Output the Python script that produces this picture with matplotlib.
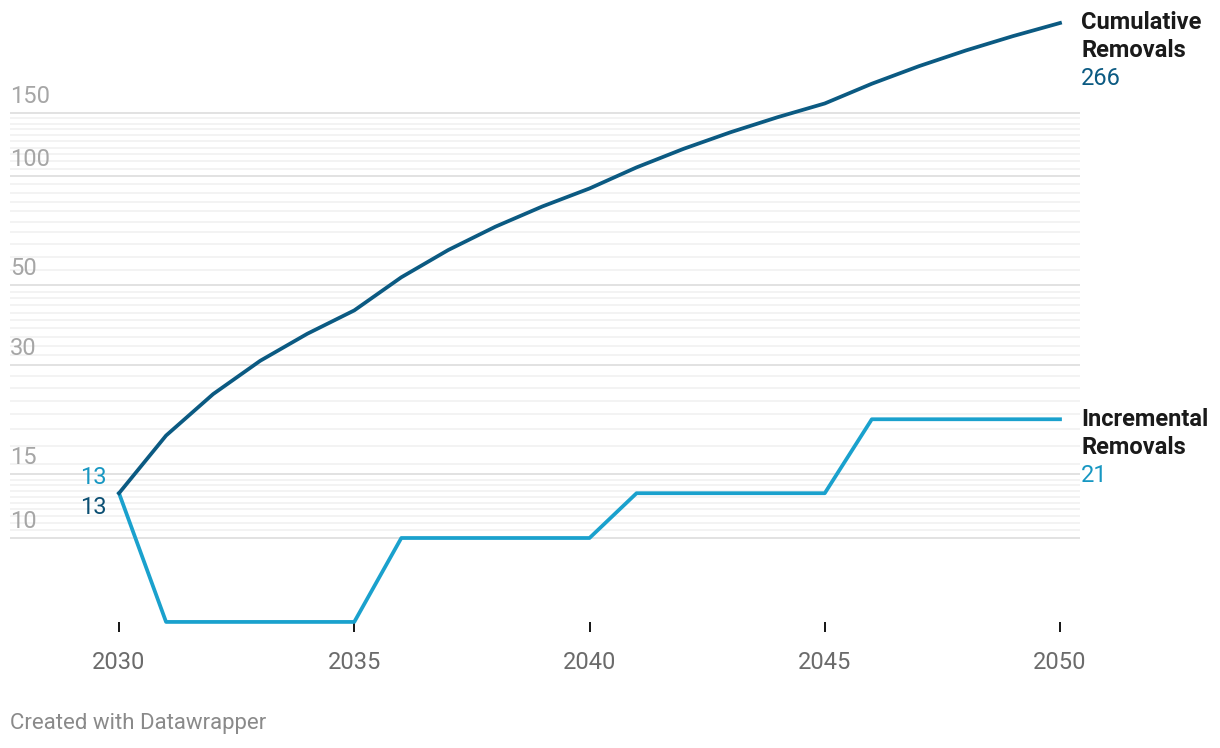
import numpy as np
import matplotlib
matplotlib.use("Agg")
import matplotlib.pyplot as plt

plt.rcParams['font.family'] = ['Roboto', 'DejaVu Sans']

years = list(range(2030, 2051))
incremental = [13.3, 5.86, 5.86, 5.86, 5.86, 5.86, 10.0, 10.0, 10.0, 10.0, 10.0,
               13.3, 13.3, 13.3, 13.3, 13.3, 21.3, 21.3, 21.3, 21.3, 21.3]
cumulative = [13.3, 19.2, 25.0, 30.9, 36.7, 42.6, 52.6, 62.6, 72.6, 82.6, 92.6,
              105.9, 119.2, 132.5, 145.8, 159.1, 180.4, 201.7, 223.0, 244.3, 265.6]
y_labels = [10, 15, 30, 50, 100, 150]
x_ticks = [2030, 2035, 2040, 2045, 2050]

dark = '#0b5a82'
light = '#1aa1cd'
px = 72 / 100  # points per pixel

fig = plt.figure(figsize=(12.2, 7.48), dpi=100)
ax = fig.add_axes([10 / 1220, 1 - 632 / 748, 1070 / 1220, 622 / 748])
ax.set_yscale('log')
ax.set_xlim(2027.683, 2050.425)
ax.set_ylim(5.496, 288.5)

# gridlines
minor = list(np.arange(10, 15, 0.5)) + [15, 16] + list(range(18, 51, 2)) + list(range(55, 151, 5))
for v in minor:
    if v in y_labels:
        ax.axhline(v, color='#e2e2e2', lw=1.4, zorder=0)
    else:
        ax.axhline(v, color='#f0f0f0', lw=1.1, zorder=0)

for v in y_labels:
    ax.annotate(str(v), xy=(0, v), xycoords=('axes fraction', 'data'),
                xytext=(0, 10 * px), textcoords='offset points',
                ha='left', va='baseline', fontsize=17, color='#a6a6a6')

ax.plot(years, cumulative, color=dark, lw=2.7, zorder=3, solid_joinstyle='round')
ax.plot(years, incremental, color=light, lw=2.7, zorder=2, solid_joinstyle='round')

for s in ax.spines.values():
    s.set_visible(False)
ax.set_yticks([])
ax.minorticks_off()
ax.set_yticks([], minor=True)
ax.set_xticks(x_ticks)
ax.set_xticklabels([str(x) for x in x_ticks])
ax.tick_params(axis='x', direction='in', length=10 * px, width=2 * px, color='#1a1a1a',
               labelsize=17, labelcolor='#6b6b6b', pad=19 * px)

# start labels
ax.annotate('13', xy=(years[0], incremental[0]), xytext=(-12 * px, 16 * px),
            textcoords='offset points', ha='right', va='center', fontsize=17, color='#1797c2')
ax.annotate('13', xy=(years[0], cumulative[0]), xytext=(-12 * px, -14 * px),
            textcoords='offset points', ha='right', va='center', fontsize=17, color='#0b4f73')

# end labels
for name, vals, col in [('Cumulative\nRemovals', cumulative, '#0b5a82'),
                        ('Incremental\nRemovals', incremental, '#1797c2')]:
    lines = name.split('\n')
    for i, t in enumerate(lines):
        ax.annotate(t, xy=(years[-1], vals[-1]), xytext=(21 * px, -28 * px * i),
                    textcoords='offset points', ha='left', va='center', fontsize=17,
                    fontweight='bold', color='#1a1a1a', annotation_clip=False)
    ax.annotate(f'{vals[-1]:.0f}', xy=(years[-1], vals[-1]), xytext=(21 * px, -28 * px * len(lines)),
                textcoords='offset points', ha='left', va='center', fontsize=17,
                color=col, annotation_clip=False)

fig.text(10 / 1220, 1 - 724 / 748, 'Created with Datawrapper', ha='left', va='center',
         fontsize=16, color='#8a8a8a')

fig.savefig('out.png', dpi=100)
